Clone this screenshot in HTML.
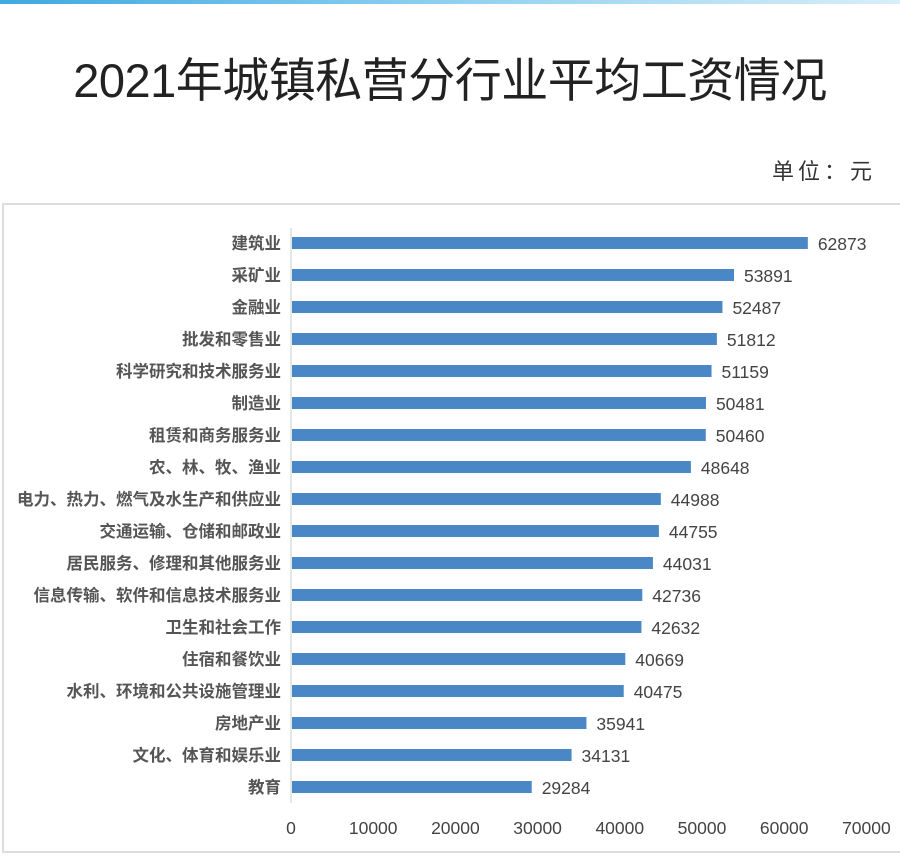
<!DOCTYPE html>
<html><head><meta charset="utf-8"><style>
body{margin:0;width:900px;height:864px;background:#fff;overflow:hidden;position:relative;font-family:"Liberation Sans","Noto Sans CJK SC",sans-serif}
.top{position:absolute;left:0;top:0;width:900px;height:4px;background:linear-gradient(90deg,#3fa9e0,#8fd0f0,#d8eef8)}
.title{position:absolute;left:0;width:900px;top:42px;text-align:center;font-size:47px;color:#222;letter-spacing:-0.5px}
.unit{position:absolute;right:24px;top:154px;font-size:22px;color:#333;letter-spacing:4px}
.box{position:absolute;left:2px;top:203px;width:910px;height:650px;border:2px solid #ddd;box-sizing:border-box}
</style></head><body>
<div class="top"></div>
<div class="title">2021年城镇私营分行业平均工资情况</div>
<div class="unit">单位：元</div>
<div class="box"></div>
<svg width="900" height="864" style="position:absolute;left:0;top:0" font-family="Liberation Sans,Noto Sans CJK SC,sans-serif">
<line x1="291" y1="228" x2="291" y2="803" stroke="#ccc"/>
<g id="bars"></g>
</svg>
<script>
var d=[["建筑业",62873],["采矿业",53891],["金融业",52487],["批发和零售业",51812],["科学研究和技术服务业",51159],["制造业",50481],["租赁和商务服务业",50460],["农、林、牧、渔业",48648],["电力、热力、燃气及水生产和供应业",44988],["交通运输、仓储和邮政业",44755],["居民服务、修理和其他服务业",44031],["信息传输、软件和信息技术服务业",42736],["卫生和社会工作",42632],["住宿和餐饮业",40669],["水利、环境和公共设施管理业",40475],["房地产业",35941],["文化、体育和娱乐业",34131],["教育",29284]];
var s="",k=82.2/10000;
d.forEach(function(r,i){var y=243+i*32,w=r[1]*k;
s+='<rect x="292" y="'+(y-6)+'" width="'+(w-1)+'" height="12" fill="#4a87c6"/>';
s+='<text x="281" y="'+(y+6)+'" text-anchor="end" font-size="16.5" font-weight="bold" fill="#555">'+r[0]+'</text>';
s+='<text x="'+(291+w+10)+'" y="'+(y+7)+'" font-size="17.5" fill="#444">'+r[1]+'</text>';});
for(var t=0;t<=7;t++){s+='<text x="'+(291+t*82.2)+'" y="834" text-anchor="middle" font-size="17.5" fill="#444">'+(t*10000)+'</text>';}
document.getElementById("bars").innerHTML=s;
</script>
</body></html>
